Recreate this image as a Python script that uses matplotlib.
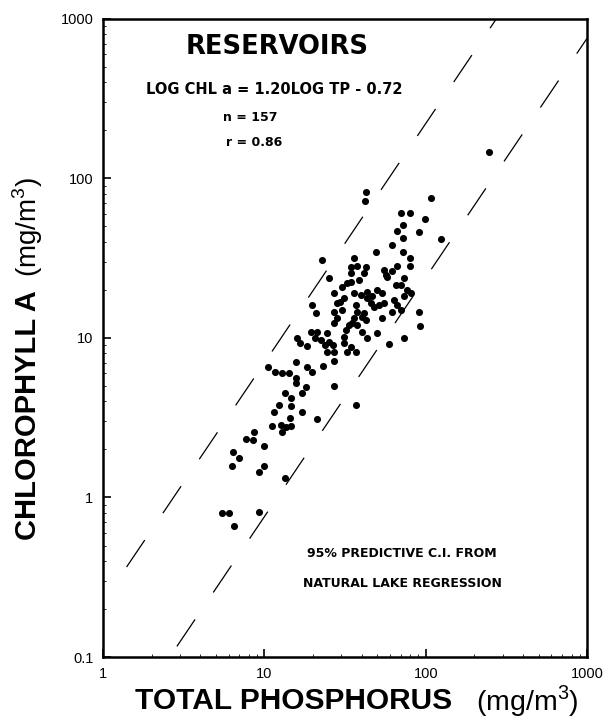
import matplotlib
matplotlib.use("Agg")
import matplotlib.pyplot as plt
import numpy as np

plt.rcParams['font.family'] = ['Liberation Sans', 'DejaVu Sans']
plt.rcParams['mathtext.fontset'] = 'custom'
plt.rcParams['mathtext.rm'] = 'Liberation Sans'

# Total phosphorus (mg/m3) and chlorophyll a (mg/m3) of reservoirs
tp = [5.46, 6.0, 6.45, 9.31, 13.5, 6.35, 7.0, 6.3, 9.9, 10.0,
      9.22, 7.7, 8.67, 8.51, 11.2, 12.6, 12.9, 13.7, 14.7, 14.5,
      11.5, 12.4, 17.1, 14.7, 21.2, 14.7, 13.5, 17.0, 18.2, 15.7,
      15.6, 10.6, 11.7, 12.9, 14.2, 15.7, 18.4, 19.6, 23.0, 26.9,
      26.9, 36.7, 16.0, 16.7, 18.4, 19.3, 21.2, 20.7, 22.3, 24.5,
      25.1, 24.5, 26.9, 23.9, 26.7, 19.8, 21.0, 25.1, 22.8, 31.1,
      31.1, 34.2, 36.7, 32.6, 31.8, 40.4, 43.4, 50.1, 28.3, 30.4,
      26.9, 28.3, 26.9, 36.7, 37.7, 35.9, 40.4, 42.4, 33.4, 37.7,
      26.9, 30.4, 31.1, 34.2, 38.5, 41.4, 34.2, 35.9, 39.5, 43.4,
      46.7, 45.5, 50.1, 53.8, 51.3, 47.7, 35.9, 37.7, 42.4, 34.2,
      49.4, 53.8, 62.1, 66.7, 70.0, 59.2, 73.3, 92.2, 90.8, 73.3,
      76.9, 80.7, 73.3, 65.1, 70.0, 56.4, 62.1, 55.1, 66.7, 57.8,
      247.0, 42.4, 42.0, 107.0, 70.0, 79.6, 98.6, 71.7, 66.7, 72.7,
      90.8, 124.0, 62.1, 71.7, 79.6, 79.6, 32.6, 43.4, 55.1, 41.4,
      35.1, 63.5, 29.6]
chl = [0.80, 0.80, 0.665, 0.815, 1.33, 1.94, 1.76, 1.58, 2.10, 1.58,
       1.45, 2.33, 2.56, 2.29, 2.81, 2.85, 2.59, 2.75, 2.81, 3.14,
       3.45, 3.80, 3.45, 3.75, 3.10, 4.19, 4.54, 4.54, 4.91, 5.25,
       5.58, 6.61, 6.10, 6.01, 6.06, 7.10, 6.61, 6.10, 6.67, 7.21,
       5.02, 3.80, 9.95, 9.27, 8.91, 10.9, 10.9, 9.95, 9.71, 10.7,
       9.48, 8.20, 8.20, 9.04, 9.04, 16.0, 14.4, 23.7, 30.8, 10.2,
       9.27, 8.82, 8.20, 8.20, 11.2, 10.9, 9.95, 10.8, 16.5, 15.0,
       14.6, 13.3, 12.4, 16.1, 14.6, 13.3, 13.6, 13.0, 12.1, 12.1,
       19.1, 21.0, 17.7, 22.5, 23.1, 25.5, 25.5, 19.1, 18.6, 19.5,
       18.2, 16.5, 20.0, 19.1, 16.1, 15.7, 31.6, 28.3, 28.0, 28.0,
       34.8, 13.3, 14.6, 16.1, 15.0, 9.17, 10.0, 11.9, 14.6, 23.7,
       20.0, 19.1, 18.2, 21.5, 21.5, 24.8, 26.1, 26.7, 28.3, 24.2,
       147.0, 81.9, 72.3, 75.1, 61.1, 61.1, 55.5, 51.1, 47.1, 42.2,
       46.0, 41.8, 38.3, 34.8, 31.6, 28.4, 22.0, 17.7, 16.5, 14.3,
       12.4, 17.3, 16.9]

# 95% predictive C.I. from natural lake regression: log CHL = slope*log TP + intercept
ci_slope = 1.5
ci_upper_intercept = -0.655
ci_lower_intercept = -1.62
ci_upper_tp = [1.40, 1000]
ci_lower_tp = [2.87, 1000]

x_ticks = [1, 10, 100, 1000]
x_tick_labels = ['1', '10', '100', '1000']
y_ticks = [0.1, 1, 10, 100, 1000]
y_tick_labels = ['0.1', '1', '10', '100', '1000']

fig = plt.figure(figsize=(6.13, 7.26), dpi=100)
ax = fig.add_axes([0.168, 0.095, 0.790, 0.879])
ax.set_xscale('log')
ax.set_yscale('log')
ax.set_xlim(1, 1000)
ax.set_ylim(0.1, 1000)

for tps, b in ((ci_upper_tp, ci_upper_intercept), (ci_lower_tp, ci_lower_intercept)):
    t = np.array(tps, dtype=float)
    ax.plot(t, 10 ** (b + ci_slope * np.log10(t)), color='black', lw=0.9,
            dashes=(26, 26))

ax.scatter(tp, chl, s=26, c='black', linewidths=0, zorder=3)

ax.set_xticks(x_ticks)
ax.set_xticklabels(x_tick_labels)
ax.set_yticks(y_ticks)
ax.set_yticklabels(y_tick_labels)
ax.tick_params(which='major', direction='in', length=6, width=1.2, labelsize=10.5,
               pad=7, top=False, right=False)
ax.tick_params(which='minor', direction='in', length=2, width=0.6, top=False, right=False)
for s in ax.spines.values():
    s.set_linewidth(1.8)

small = dict(transform=ax.transAxes, ha='center', va='center', fontweight='bold',
             family='DejaVu Sans')
ax.text(0.36, 0.956, 'RESERVOIRS', fontsize=18.5, **small)
ax.text(0.353, 0.889, 'LOG CHL a = 1.20LOG TP - 0.72', fontsize=10.5, **small)
ax.text(0.304, 0.845, 'n = 157', fontsize=9, **small)
ax.text(0.312, 0.807, 'r = 0.86', fontsize=9, **small)
ax.text(0.618, 0.163, '95% PREDICTIVE C.I. FROM', fontsize=9, **small)
ax.text(0.618, 0.116, 'NATURAL LAKE REGRESSION', fontsize=9, **small)

fig.text(0.738, 0.035, 'TOTAL PHOSPHORUS', ha='right', va='center', fontsize=21.5,
         fontweight='bold')
fig.text(0.776, 0.035, r'(mg/m$^{\mathregular{3}}$)', ha='left', va='center', fontsize=20.5)
fig.text(0.045, 0.256, 'CHLOROPHYLL A', ha='center', va='bottom', rotation=90,
         fontsize=21, fontweight='bold')
fig.text(0.045, 0.618, r'(mg/m$^{\mathregular{3}}$)', ha='center', va='bottom',
         rotation=90, fontsize=20)

fig.savefig('out.png', dpi=100)
